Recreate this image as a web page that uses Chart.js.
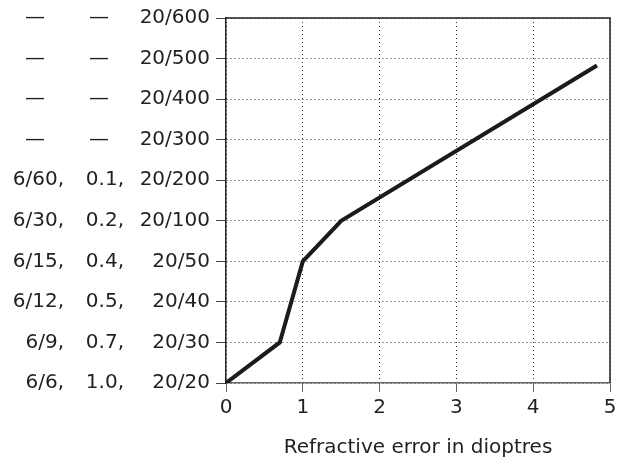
<!DOCTYPE html>
<html>
<head>
<meta charset="utf-8">
<script src="https://cdn.jsdelivr.net/npm/chart.js@4"></script>
<style>
  body { margin: 0; background: #fff; }
</style>
</head>
<body>
<canvas id="acuityChart" width="618" height="458"></canvas>
<script>
// acuity rows, bottom to top
const metricLabels = ['6/6,', '6/9,', '6/12,', '6/15,', '6/30,', '6/60,', '—', '—', '—', '—'];
const decimalLabels = ['1.0,', '0.7,', '0.5,', '0.4,', '0.2,', '0.1,', '—', '—', '—', '—'];
const feetLabels = ['20/20', '20/30', '20/40', '20/50', '20/100', '20/200', '20/300', '20/400', '20/500', '20/600'];

// refractive error (dioptres) vs acuity row
const dioptres = [0, 0.7, 1, 1.5, 4.83];
const acuityRow = [0, 1, 3, 4, 7.83];

const textColor = '#231f20';
const fontFamily = '"DejaVu Sans", sans-serif';

// extra label columns left of the y axis, plus top/right frame
const sideColumns = {
    id: 'sideColumns',
    afterDraw(chart) {
        const c = chart.ctx;
        const y = chart.scales.y;
        const area = chart.chartArea;

        c.save();
        c.font = '20px ' + fontFamily;
        c.fillStyle = textColor;
        c.textBaseline = 'middle';
        metricLabels.forEach((txt, i) => {
            const py = y.getPixelForValue(i);
            if (txt === '—') {
                c.textAlign = 'center';
                c.fillText(txt, 35, py);
            } else {
                c.textAlign = 'right';
                c.fillText(txt, 64, py);
            }
        });
        decimalLabels.forEach((txt, i) => {
            const py = y.getPixelForValue(i);
            if (txt === '—') {
                c.textAlign = 'center';
                c.fillText(txt, 99, py);
            } else {
                c.textAlign = 'right';
                c.fillText(txt, 124, py);
            }
        });

        c.strokeStyle = '#231f20';
        c.lineWidth = 1.5;
        c.beginPath();
        c.moveTo(area.left, area.top);
        c.lineTo(area.right, area.top);
        c.lineTo(area.right, area.bottom);
        c.stroke();
        c.restore();
    }
};

new Chart(document.getElementById('acuityChart'), {
    type: 'line',
    data: {
        datasets: [{
            data: dioptres.map((d, i) => ({ x: d, y: acuityRow[i] })),
            borderColor: '#1c1a1a',
            borderWidth: 4,
            pointRadius: 0,
            tension: 0,
            fill: false
        }]
    },
    options: {
        responsive: false,
        animation: false,
        layout: {
            padding: { top: 18, right: 8, bottom: -2, left: 0 }
        },
        plugins: {
            legend: { display: false },
            tooltip: { enabled: false }
        },
        scales: {
            x: {
                type: 'linear',
                min: 0,
                max: 5,
                afterFit(scale) {
                    scale.paddingLeft = 0;
                    scale.paddingRight = 0;
                },
                ticks: {
                    stepSize: 1,
                    color: textColor,
                    padding: 4,
                    font: { family: fontFamily, size: 20 }
                },
                grid: {
                    color: '#333',
                    tickColor: '#666',
                    tickLength: 9,
                    tickBorderDash: []
                },
                border: {
                    color: '#666',
                    width: 1.5,
                    dash: [1, 3]
                },
                title: {
                    display: true,
                    text: 'Refractive error in dioptres',
                    color: textColor,
                    padding: { top: 12, bottom: 0 },
                    font: { family: fontFamily, size: 20 }
                }
            },
            y: {
                type: 'linear',
                min: 0,
                max: 9,
                afterFit(scale) {
                    scale.width = 226;
                },
                ticks: {
                    stepSize: 1,
                    color: textColor,
                    padding: 6,
                    font: { family: fontFamily, size: 20 },
                    callback: (v) => feetLabels[v]
                },
                grid: {
                    color: '#333',
                    tickColor: '#444',
                    tickLength: 10,
                    tickBorderDash: []
                },
                border: {
                    color: '#231f20',
                    width: 1.5,
                    dash: [1, 3]
                }
            }
        }
    },
    plugins: [sideColumns]
});
</script>
</body>
</html>
